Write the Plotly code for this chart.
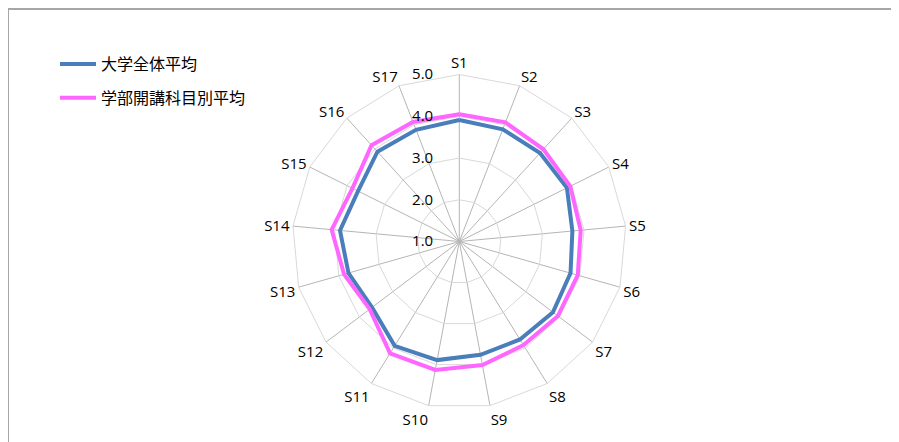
import plotly.graph_objects as go

categories = ["S1", "S2", "S3", "S4", "S5", "S6", "S7", "S8", "S9",
              "S10", "S11", "S12", "S13", "S14", "S15", "S16", "S17"]
univ_avg = [3.91, 3.88, 3.87, 3.88, 3.72, 3.77, 3.81, 3.76, 3.76,
            3.89, 3.94, 3.62, 3.76, 3.87, 3.71, 3.91, 3.87]
dept_avg = [4.05, 4.06, 3.99, 3.97, 3.92, 3.95, 3.96, 3.92, 4.01,
            4.13, 4.15, 3.69, 3.87, 4.07, 3.86, 4.12, 4.07]
series_names = ["大学全体平均", "学部開講科目別平均"]
radial_ticks = [1, 2, 3, 4, 5]
radial_ticktext = ["1.0", "2.0", "3.0", "4.0", "5.0"]

OFF = 8  # page body margin
W, H = 899 - OFF, 442 - OFF
# desired page centre (459.3, 241.5) -> figure coords
cx, cy, R = 459.3 - OFF, 241.5 - OFF, 167.0

fig = go.Figure()
for i, (name, vals, color) in enumerate([(series_names[0], univ_avg, "#4A7EBB"),
                                         (series_names[1], dept_avg, "#FF66FF")]):
    fig.add_trace(go.Scatterpolar(
        r=vals + vals[:1], theta=categories + categories[:1],
        mode="lines", name=name, legendgroup=str(i),
        line=dict(color=color, width=4),
    ))

font_txt = "Open Sans, Noto Sans CJK JP, sans-serif"
pad = "\u00a0" * 6
fig.update_layout(
    width=W, height=H,
    margin=dict(l=0, r=0, t=0, b=0),
    paper_bgcolor="white", plot_bgcolor="white",
    font=dict(family=font_txt, size=15, color="#000000"),
    polar=dict(
        domain=dict(x=[(cx - R) / W, (cx + R) / W],
                    y=[(H - cy - R) / H, (H - cy + R) / H]),
        bgcolor="white",
        gridshape="linear",
        angularaxis=dict(
            direction="clockwise", rotation=90,
            showline=True, linecolor="#D9D9D9", linewidth=1,
            gridcolor="#B5B5B5", gridwidth=1,
            ticks="", tickfont=dict(family=font_txt, size=15, color="#000000"),
        ),
        radialaxis=dict(
            range=[1, 5], tickvals=radial_ticks,
            ticktext=[t + pad for t in radial_ticktext],
            angle=90, tickangle=90, side="counterclockwise",
            showline=False, ticks="",
            gridcolor="#D9D9D9", gridwidth=1,
            tickfont=dict(family=font_txt, size=15, color="#000000"),
        ),
    ),
    legend=dict(
        x=47 / W, y=1 - 39 / H, xanchor="left", yanchor="top",
        font=dict(family="Noto Sans CJK JP, sans-serif", size=16, color="#000000"),
        bgcolor="rgba(0,0,0,0)", tracegroupgap=10, itemwidth=36,
    ),
    shapes=[dict(type="rect", xref="paper", yref="paper",
                 x0=0, x1=1.05, y0=-0.05, y1=1 - 1 / H,
                 line=dict(color="#A6A6A6", width=2), fillcolor="rgba(0,0,0,0)",
                 layer="below")],
)

fig.write_html("out.html")
